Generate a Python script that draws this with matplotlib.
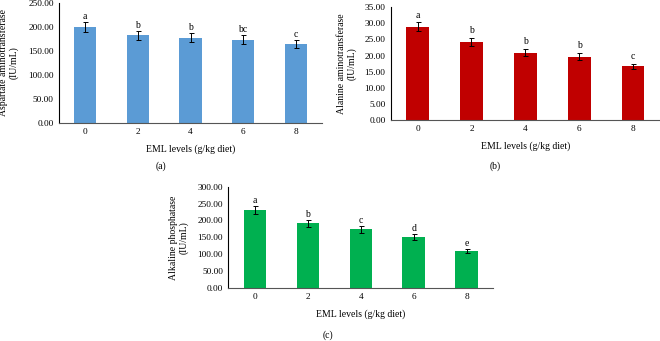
import numpy as np
import matplotlib
matplotlib.use('Agg')
import matplotlib.pyplot as plt

plt.rcParams['font.family'] = ['Liberation Serif', 'DejaVu Serif']

levels = ['0', '2', '4', '6', '8']

ast_mean = [200.5, 182.5, 177.5, 173.5, 164.5]
ast_err = [10.0, 9.0, 9.0, 9.0, 8.5]
ast_sig = ['a', 'b', 'b', 'bc', 'c']

alt_mean = [29.0, 24.2, 20.9, 19.6, 16.7]
alt_err = [1.3, 1.2, 1.1, 1.1, 0.8]
alt_sig = ['a', 'b', 'b', 'b', 'c']

alp_mean = [230.0, 191.5, 173.5, 151.0, 109.5]
alp_err = [12.0, 10.0, 9.5, 8.0, 6.0]
alp_sig = ['a', 'b', 'c', 'd', 'e']

FS = 7
TFS = 6.7
W = 660.0
H = 341.0


def px_axes(fig, left, right, top, bottom):
    return fig.add_axes([left / W, 1 - bottom / H, (right - left) / W, (bottom - top) / H])


def panel(ax, mean, err, sig, color, ymax, step, ylabel, offset):
    x = np.arange(len(levels))
    ax.bar(x, mean, width=0.42, color=color, zorder=2)
    ax.errorbar(x, mean, yerr=err, fmt='none', ecolor='black',
                elinewidth=0.7, capsize=1.8, capthick=0.7, zorder=3)
    for xi, m, e, s in zip(x, mean, err, sig):
        ax.text(xi, m + e + offset, s, ha='center', va='bottom', fontsize=FS)
    ax.set_xlim(-0.5, len(levels) - 0.5)
    ax.set_ylim(0, ymax)
    ax.set_yticks(np.arange(0, ymax + step / 2, step))
    ax.yaxis.set_major_formatter(matplotlib.ticker.FormatStrFormatter('%.2f'))
    ax.set_xticks(x)
    ax.set_xticklabels(levels)
    ax.tick_params(length=0, labelsize=TFS, pad=3.8)
    for sp in ['top', 'right']:
        ax.spines[sp].set_visible(False)
    ax.spines['left'].set_color('black')
    ax.spines['left'].set_linewidth(0.8)
    ax.spines['bottom'].set_color('#555555')
    ax.spines['bottom'].set_linewidth(0.8)
    ax.set_ylabel(ylabel, fontsize=FS, linespacing=1.15)
    ax.set_xlabel('EML levels (g/kg diet)', fontsize=FS, labelpad=6)


fig = plt.figure(figsize=(6.6, 3.41), dpi=100)

ax_a = px_axes(fig, 59, 322, 3, 123)
panel(ax_a, ast_mean, ast_err, ast_sig, '#5B9BD5', 250, 50,
      'Aspartate aminotransferase\n(IU/mL)', 3)
ax_a.yaxis.set_label_coords(-0.152, 0.5)

ax_b = px_axes(fig, 390.7, 660, 7.3, 120)
panel(ax_b, alt_mean, alt_err, alt_sig, '#C00000', 35, 5,
      'Alanine aminotransferase\n(IU/mL)', 0.9)
ax_b.yaxis.set_label_coords(-0.126, 0.5)

ax_c = px_axes(fig, 228.3, 493, 186.7, 288)
panel(ax_c, alp_mean, alp_err, alp_sig, '#00B050', 300, 50,
      'Alkaline phosphatase\n(IU/mL)', 3)
ax_c.yaxis.set_label_coords(-0.148, 0.5)

fig.text(161 / W, 1 - 166 / H, '(a)', ha='center', va='center', fontsize=FS)
fig.text(495 / W, 1 - 166 / H, '(b)', ha='center', va='center', fontsize=FS)
fig.text(328 / W, 1 - 335 / H, '(c)', ha='center', va='center', fontsize=FS)

fig.savefig('out.png', dpi=100)
